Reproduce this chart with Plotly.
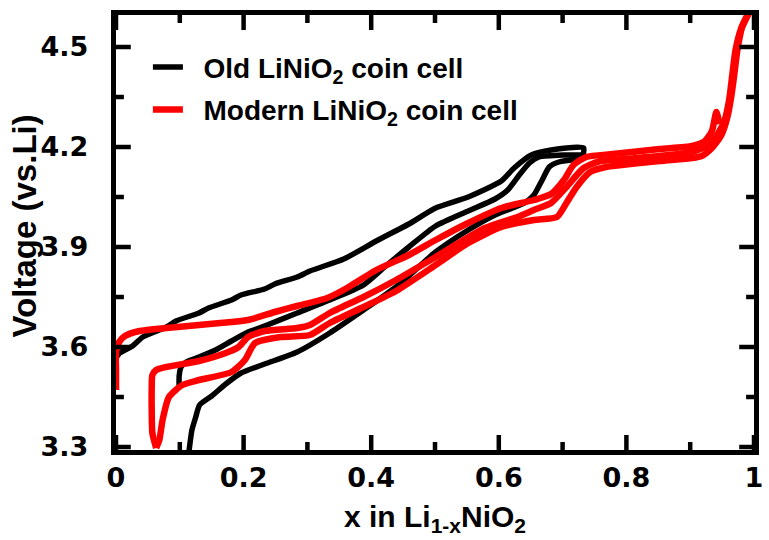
import plotly.graph_objects as go

# ---- Old LiNiO2 coin cell: three voltage profiles (x in Li1-xNiO2, V vs. Li) ----
old_1_x = [0.000, 0.006, 0.026, 0.042, 0.079, 0.094, 0.130, 0.145, 0.181, 0.196, 0.233, 0.249,
           0.284, 0.304, 0.357, 0.408, 0.459, 0.501, 0.552, 0.604, 0.624, 0.651, 0.682, 0.733, 0.731]
old_1_v = [3.567, 3.582, 3.603, 3.630, 3.660, 3.678, 3.702, 3.717, 3.741, 3.756, 3.774, 3.789,
           3.810, 3.828, 3.864, 3.918, 3.969, 4.017, 4.050, 4.098, 4.137, 4.176, 4.191, 4.197, 4.167]

old_2_x = [0.099, 0.099, 0.102, 0.110, 0.130, 0.156, 0.181, 0.207, 0.233, 0.284, 0.335, 0.388,
           0.423, 0.459, 0.501, 0.552, 0.594, 0.614, 0.632, 0.648, 0.663, 0.702, 0.730]
old_2_v = [3.477, 3.513, 3.540, 3.555, 3.570, 3.591, 3.618, 3.645, 3.663, 3.702, 3.741, 3.786,
           3.843, 3.900, 3.963, 4.008, 4.044, 4.071, 4.116, 4.152, 4.170, 4.176, 4.176]

old_3_x = [0.114, 0.119, 0.125, 0.131, 0.150, 0.172, 0.196, 0.233, 0.284, 0.335, 0.388, 0.439,
           0.501, 0.547, 0.594, 0.640, 0.655, 0.668, 0.679, 0.694, 0.725]
old_3_v = [3.280, 3.351, 3.390, 3.426, 3.453, 3.489, 3.522, 3.549, 3.585, 3.642, 3.711, 3.780,
           3.885, 3.945, 3.996, 4.032, 4.056, 4.101, 4.140, 4.155, 4.164]

# ---- Modern LiNiO2 coin cell: three voltage profiles ----
modern_1_x = [0.000, 0.000, 0.000, 0.005, 0.014, 0.037, 0.079, 0.130, 0.181, 0.207, 0.249, 0.284,
              0.331, 0.362, 0.408, 0.459, 0.501, 0.552, 0.604, 0.655, 0.682, 0.702, 0.717, 0.737,
              0.779, 0.852, 0.903, 0.923, 0.934, 0.941, 0.946]
modern_1_v = [3.471, 3.531, 3.585, 3.615, 3.633, 3.648, 3.657, 3.666, 3.675, 3.681, 3.705, 3.723,
              3.747, 3.777, 3.831, 3.876, 3.921, 3.972, 4.017, 4.041, 4.059, 4.101, 4.146, 4.170,
              4.179, 4.194, 4.203, 4.218, 4.248, 4.305, 4.269]

modern_2_x = [0.063, 0.057, 0.056, 0.056, 0.057, 0.063, 0.079, 0.130, 0.172, 0.192, 0.207, 0.233,
              0.284, 0.304, 0.335, 0.388, 0.439, 0.501, 0.578, 0.629, 0.655, 0.682, 0.706, 0.733,
              0.759, 0.779, 0.852, 0.903, 0.929, 0.944, 0.954, 0.961, 0.966, 0.971, 0.980, 0.991,
              0.995]
modern_2_v = [3.297, 3.342, 3.411, 3.477, 3.516, 3.531, 3.540, 3.558, 3.582, 3.600, 3.630, 3.648,
              3.657, 3.666, 3.702, 3.750, 3.801, 3.870, 3.957, 3.990, 4.011, 4.032, 4.080, 4.137,
              4.158, 4.161, 4.173, 4.185, 4.206, 4.242, 4.281, 4.341, 4.416, 4.491, 4.557, 4.602,
              4.626]

modern_3_x = [0.063, 0.068, 0.073, 0.083, 0.104, 0.130, 0.181, 0.202, 0.218, 0.258, 0.304, 0.335,
              0.388, 0.439, 0.501, 0.552, 0.604, 0.655, 0.691, 0.706, 0.722, 0.743, 0.768, 0.779,
              0.852, 0.903, 0.918, 0.934, 0.949, 0.958, 0.964, 0.969, 0.974, 0.981, 0.992, 0.997]
modern_3_v = [3.297, 3.321, 3.381, 3.450, 3.486, 3.501, 3.525, 3.561, 3.612, 3.630, 3.636, 3.672,
              3.720, 3.768, 3.846, 3.912, 3.960, 3.981, 3.990, 4.032, 4.080, 4.125, 4.140, 4.143,
              4.158, 4.167, 4.173, 4.197, 4.236, 4.287, 4.347, 4.416, 4.491, 4.557, 4.602, 4.626]

# ---- axis ticks ----
x_major_ticks = [0.0, 0.2, 0.4, 0.6, 0.8, 1.0]
x_tick_labels = ["0", "0.2", "0.4", "0.6", "0.8", "1"]
x_minor_ticks = [0.1, 0.3, 0.5, 0.7, 0.9]
y_major_ticks = [3.3, 3.6, 3.9, 4.2, 4.5]
y_tick_labels = ["3.3", "3.6", "3.9", "4.2", "4.5"]
y_minor_ticks = [3.45, 3.75, 4.05, 4.35]

old_curves = [(old_1_x, old_1_v), (old_2_x, old_2_v), (old_3_x, old_3_v)]
modern_curves = [(modern_1_x, modern_1_v), (modern_2_x, modern_2_v), (modern_3_x, modern_3_v)]

NB = "\u00a0"
OLD_NAME = NB * 2 + "<b>Old LiNiO<sub>2</sub> coin cell</b>"
MODERN_NAME = NB * 2 + "<b>Modern LiNiO<sub>2</sub> coin cell</b>"

fig = go.Figure()

for i, (xs, vs) in enumerate(old_curves):
    fig.add_trace(go.Scatter(
        x=xs, y=vs, mode="lines", name=OLD_NAME, legendgroup="old",
        showlegend=(i == 0), line=dict(color="black", width=5.5, shape="spline", smoothing=0.6),
    ))

for i, (xs, vs) in enumerate(modern_curves):
    fig.add_trace(go.Scatter(
        x=xs, y=vs, mode="lines", name=MODERN_NAME, legendgroup="modern",
        showlegend=(i == 0), line=dict(color="#ff0000", width=6.5, shape="spline", smoothing=0.6),
    ))

tick_font = dict(family="DejaVu Sans", size=27, color="black")

fig.update_xaxes(
    range=[0, 1], tickmode="array", tickvals=x_major_ticks,
    ticktext=["<b>%s</b>" % t for t in x_tick_labels],
    showline=True, linewidth=5, linecolor="black", mirror=True, ticks="",
    showgrid=False, zeroline=False, tickfont=tick_font,
    title=dict(text="<b>x in Li<sub>1-x</sub>NiO<sub>2</sub></b>",
               font=dict(family="Liberation Sans", size=30, color="black")),
)
fig.update_yaxes(
    range=[3.291, 4.596], tickmode="array", tickvals=y_major_ticks,
    ticktext=["<b>%s</b>%s" % (t, NB * 2) for t in y_tick_labels],
    showline=True, linewidth=5, linecolor="black", mirror=True, ticks="",
    showgrid=False, zeroline=False, tickfont=tick_font,
)

# inside tick marks on all four sides of the frame (major 15 px, minor 8 px)
PLOT_W, PLOT_H = 647, 435
TICK_STYLE = dict(color="black", width=4.5)
for ticks, length in ((x_major_ticks, 15), (x_minor_ticks, 8)):
    frac = length / PLOT_H
    for v in ticks:
        for base, end in ((0, frac), (1, 1 - frac)):
            fig.add_shape(type="line", xref="x", yref="y domain", x0=v, x1=v, y0=base, y1=end,
                          line=TICK_STYLE, layer="above")
for ticks, length in ((y_major_ticks, 15), (y_minor_ticks, 8)):
    frac = length / PLOT_W
    for v in ticks:
        for base, end in ((0, frac), (1, 1 - frac)):
            fig.add_shape(type="line", xref="x domain", yref="y", x0=base, x1=end, y0=v, y1=v,
                          line=TICK_STYLE, layer="above")

# vertical axis title placed beside the tick labels
fig.add_annotation(
    text="<b>Voltage (vs.Li)</b>", textangle=-90, showarrow=False,
    xref="paper", yref="paper", x=-0.142, y=0.515, xanchor="center", yanchor="middle",
    font=dict(family="Liberation Sans", size=33, color="black"),
)

fig.update_layout(
    width=769, height=540,
    margin=dict(l=116, r=6, t=15, b=90),
    paper_bgcolor="white", plot_bgcolor="white",
    showlegend=True,
    legend=dict(
        x=0.05, y=0.937, xanchor="left", yanchor="top",
        bgcolor="rgba(0,0,0,0)", borderwidth=0,
        font=dict(family="Liberation Sans", size=28, color="black"),
        tracegroupgap=3,
    ),
)

fig.write_html("out.html")
